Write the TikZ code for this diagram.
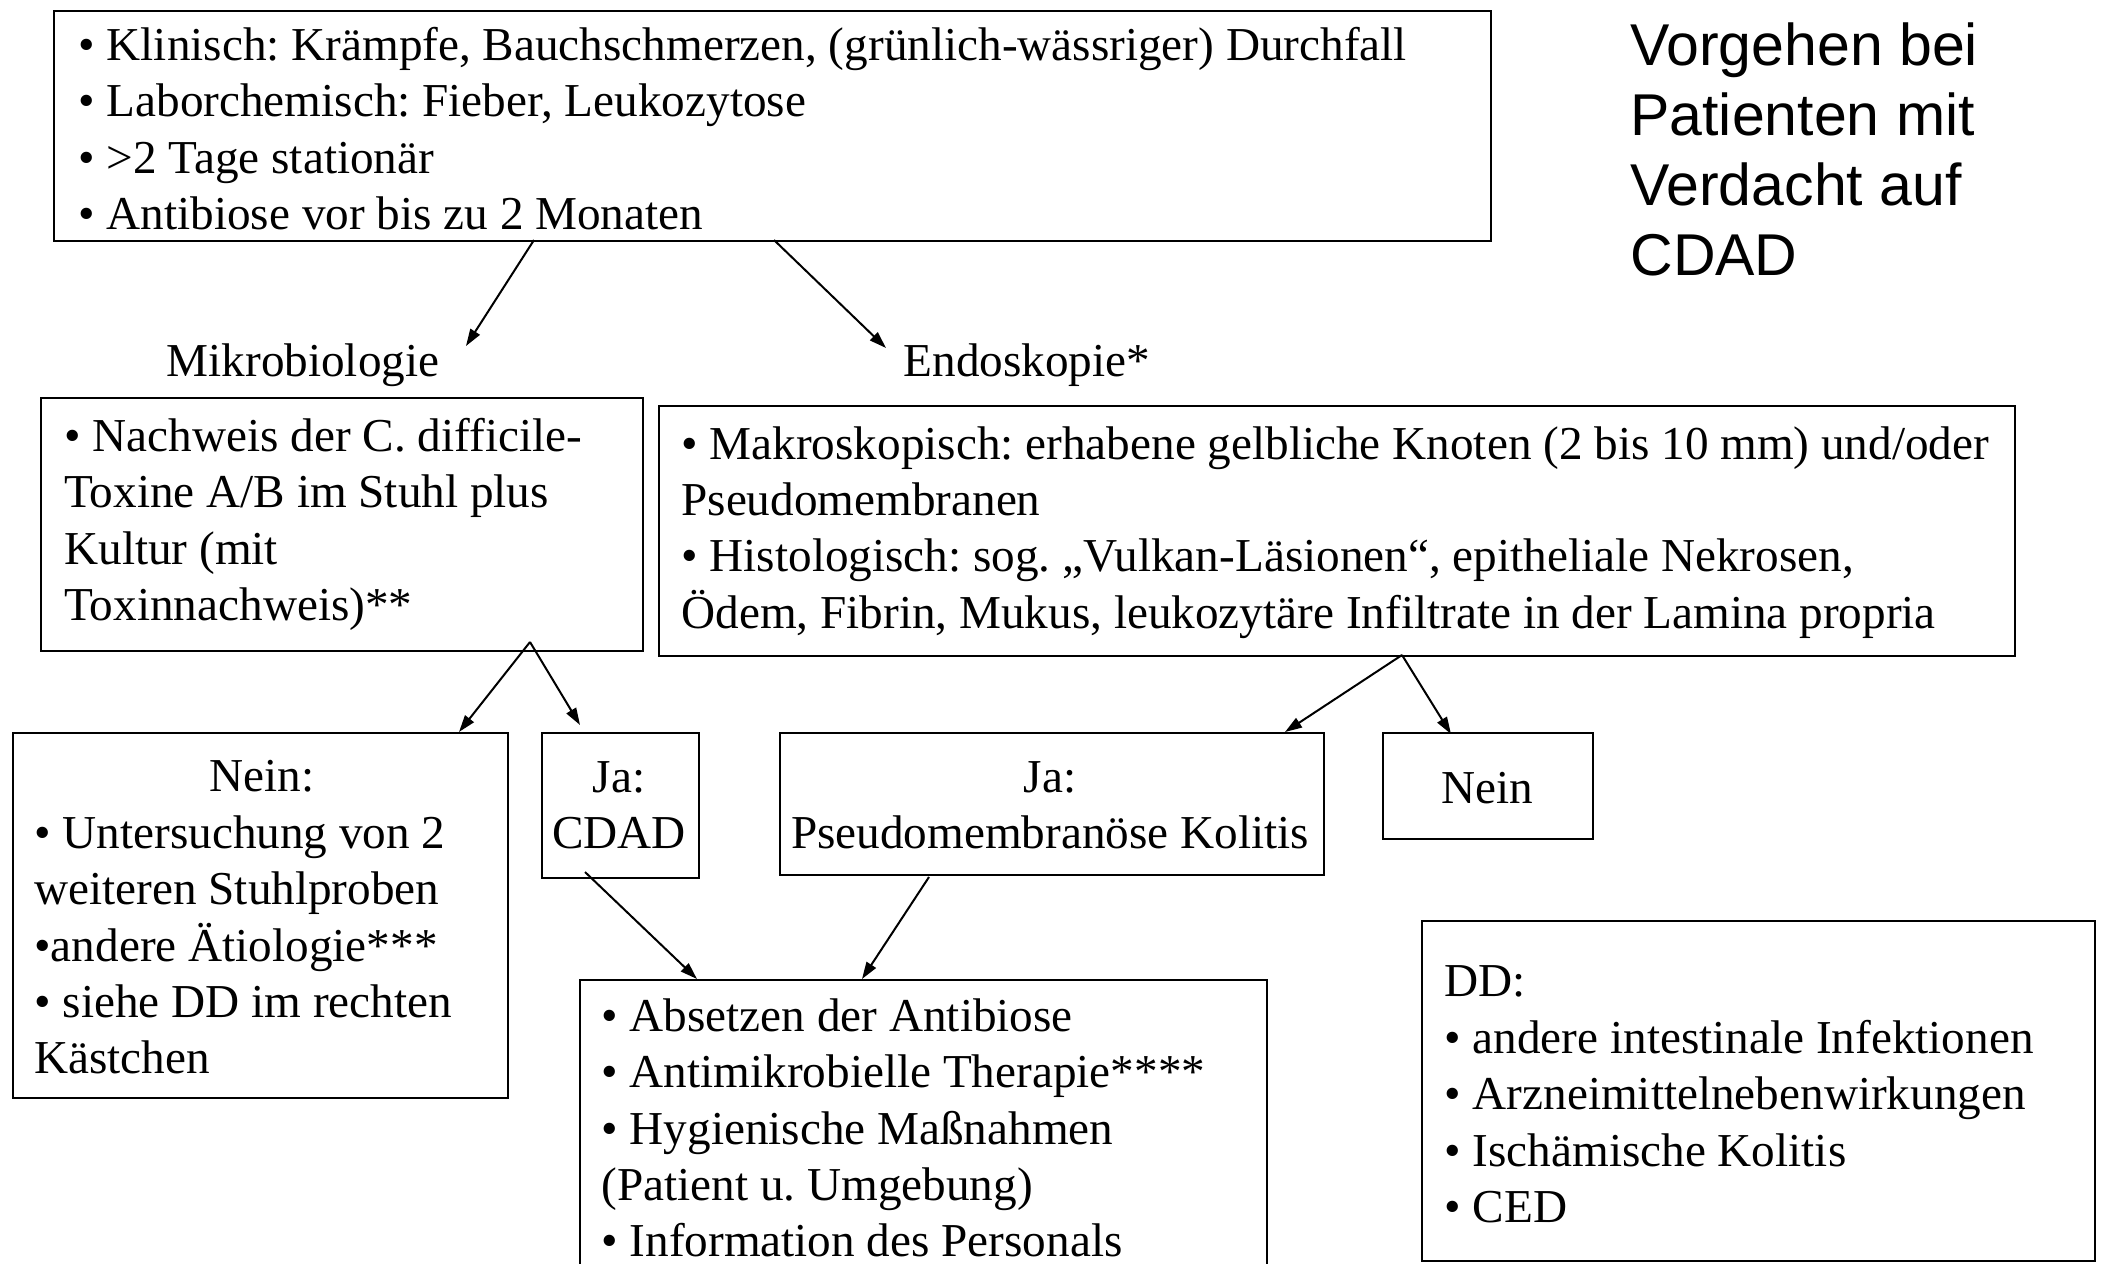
\documentclass[tikz,border=0pt]{standalone}
\usepackage{fontspec}
\setmainfont{Liberation Serif}
\newfontfamily\titlefont{Liberation Sans}
\usetikzlibrary{arrows.meta}
\frenchspacing
\begin{document}
\begin{tikzpicture}[x=0.5pt,y=-0.5pt,
  box/.style={draw,line width=1.1pt,rectangle,anchor=north west,inner sep=0pt},
  txt/.style={inner sep=0pt,align=left,anchor=west,font=\frenchspacing\fontsize{23.6}{28.2}\selectfont},
  ctxt/.style={inner sep=0pt,align=center,font=\frenchspacing\fontsize{23.6}{28.2}\selectfont},
  arr/.style={line width=1pt,-{Triangle[length=8.5pt,width=5.5pt]}}]
\useasboundingbox (0,0) rectangle (2105,1264);
\clip (0,0) rectangle (2105,1264);
\fill[white] (0,0) rectangle (2105,1264);

% boxes
\node[box,minimum width=718.5pt,minimum height=115pt] (top) at (53,10) {};
\node[box,minimum width=301pt,minimum height=126.5pt] (mikro) at (40,397) {};
\node[box,minimum width=678pt,minimum height=125pt] (endo) at (658,405) {};
\node[box,minimum width=247.5pt,minimum height=182.5pt] (neinl) at (12,732) {};
\node[box,minimum width=78.5pt,minimum height=72.5pt] (jacdad) at (541,732) {};
\node[box,minimum width=272pt,minimum height=71pt] (japm) at (779,732) {};
\node[box,minimum width=105pt,minimum height=53pt] (neinr) at (1382,732) {};
\node[box,minimum width=343.5pt,minimum height=165pt] (thera) at (579,979) {};
\node[box,minimum width=336.5pt,minimum height=170pt] (dd) at (1421,920) {};

% texts
\node[txt] (toptxt) at (78,128.5) {• Klinisch: Krämpfe, Bauchschmerzen, (grünlich-wässriger) Durchfall\\• Laborchemisch: Fieber, Leukozytose\\• >2 Tage stationär\\• Antibiose vor bis zu 2 Monaten};
\node[txt] (mikrotxt) at (64,524.5) {• Nachweis der C. difficile-\\Toxine A/B im Stuhl plus\\Kultur (mit\\Toxinnachweis)**};
\node[txt] (endotxt) at (681,532.5) {• Makroskopisch: erhabene gelbliche Knoten (2 bis 10 mm) und/oder\\Pseudomembranen\\• Histologisch: sog. „Vulkan-Läsionen“, epitheliale Nekrosen,\\Ödem, Fibrin, Mukus, leukozytäre Infiltrate in der Lamina propria};
\node[ctxt] (neinlhead) at (262,776) {Nein:};
\node[txt] (neinltxt) at (34,945) {• Untersuchung von 2\\weiteren Stuhlproben\\•andere Ätiologie***\\• siehe DD im rechten\\Kästchen};
\node[ctxt] (jacdadtxt) at (619,805) {Ja:\\CDAD};
\node[ctxt] (japmtxt) at (1050,805) {Ja:\\Pseudomembranöse Kolitis};
\node[ctxt] (neinrtxt) at (1487,788) {Nein};
\node[txt] (theratxt) at (601,1128) {• Absetzen der Antibiose\\• Antimikrobielle Therapie****\\• Hygienische Maßnahmen\\(Patient u. Umgebung)\\• Information des Personals};
\node[txt] (ddtxt) at (1444,1094.5) {DD:\\• andere intestinale Infektionen\\• Arzneimittelnebenwirkungen\\• Ischämische Kolitis\\• CED};
\node[ctxt] (mikrolab) at (303,365) {Mikrobiologie};
\node[ctxt] (endolab) at (1027,365) {Endoskopie*};
\node[inner sep=0pt,align=left,anchor=west,font=\titlefont\fontsize{29.5}{35}\selectfont] (title) at (1630,149.5) {Vorgehen bei\\Patienten mit\\Verdacht auf\\CDAD};

% connector points
\coordinate (s1) at (534,240);
\coordinate (e1) at (466,346);
\coordinate (s2) at (774,240);
\coordinate (e2) at (886,348);
\coordinate (s3) at (530,642);
\coordinate (e3) at (459,732);
\coordinate (e4) at (580,725);
\coordinate (s5) at (1402,655);
\coordinate (e5) at (1285,732);
\coordinate (e6) at (1451,734);
\coordinate (s7) at (585,872);
\coordinate (e7) at (697,979);
\coordinate (s8) at (929,877);
\coordinate (e8) at (862,979);

\draw[arr] (s1) -- (e1);
\draw[arr] (s2) -- (e2);
\draw[arr] (s3) -- (e3);
\draw[arr] (s3) -- (e4);
\draw[arr] (s5) -- (e5);
\draw[arr] (s5) -- (e6);
\draw[arr] (s7) -- (e7);
\draw[arr] (s8) -- (e8);
\end{tikzpicture}
\end{document}
